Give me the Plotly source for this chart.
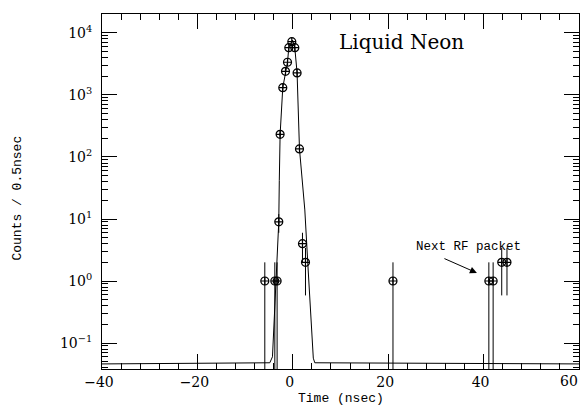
import math
import plotly.graph_objects as go

# measured data points (time in ns, counts per 0.5 ns)
time_ns = [-5.87, -3.77, -3.29, -2.94, -2.66, -2.10, -1.53, -1.11, -0.84, -0.21,
           0.42, 0.90, 1.40, 2.03, 2.66, 21.0, 41.1, 42.0, 43.8, 44.9]
counts = [1, 1, 1, 9, 232, 1310, 2410, 3370, 5790, 7240,
          5790, 2265, 135, 4, 2, 1, 1, 1, 2, 2]

# fitted curve
fit_t = [-40, -4.82, -4.26, -3.98, -3.56, -2.94, -2.83, -2.66, -2.10, -1.53, -1.11,
         -0.84, -0.06, 0.42, 0.90, 1.40, 1.95, 2.52, 3.14, 3.77, 4.30, 4.61, 60]
fit_v = [0.046, 0.048, 0.060, 0.18, 0.72, 9.0, 42, 232, 1312, 2410, 3370,
         5790, 7710, 5790, 2265, 135, 42, 14, 1.95, 0.235, 0.057, 0.048, 0.046]

ytick_vals = [0.1, 1, 10, 100, 1000, 10000]
ytick_text = ["10<sup>\u22121</sup>", "10<sup>0</sup>", "10<sup>1</sup>",
              "10<sup>2</sup>", "10<sup>3</sup>", "10<sup>4</sup>"]
xtick_vals = [-40, -20, 0, 20, 40, 60]
xtick_text = ["\u221240", "\u221220", "0", "20", "40", "60"]

err_plus = [c ** 0.5 for c in counts]
err_minus = [min(c ** 0.5, c * 0.999) for c in counts]

mono = "Liberation Mono"
serif = "DejaVu Serif"

fig = go.Figure()
fig.add_trace(go.Scatter(x=fit_t, y=fit_v, mode="lines",
                         line=dict(color="black", width=1), showlegend=False))
fig.add_trace(go.Scatter(
    x=time_ns, y=counts, mode="markers",
    marker=dict(symbol="circle-cross-open", size=8, color="black",
                line=dict(color="black", width=1.2)),
    error_y=dict(type="data", array=err_plus, arrayminus=err_minus,
                 symmetric=False, thickness=1, width=0, color="black"),
    showlegend=False))

axis_common = dict(showgrid=False, zeroline=False, showline=True, linecolor="black",
                   linewidth=1, mirror="allticks", ticks="inside", tickcolor="black",
                   ticklen=15, tickwidth=1, automargin=False)

# last x label sits at the right page edge; it is drawn as an annotation below
fig.update_xaxes(range=[-40, 60], tickvals=xtick_vals,
                 ticktext=xtick_text[:-1] + [""],
                 minor=dict(dtick=4, ticks="inside", ticklen=6, tickcolor="black",
                            showgrid=False),
                 tickfont=dict(family=serif, size=14, color="black"),
                 ticklabelshift=-3,
                 **axis_common)
fig.update_yaxes(type="log", range=[-1.419, 4.306], tickvals=ytick_vals,
                 ticktext=ytick_text,
                 minor=dict(dtick="D1", ticks="inside", ticklen=6, tickcolor="black",
                            showgrid=False),
                 tickfont=dict(family=serif, size=14, color="black"),
                 ticklabelstandoff=6,
                 **axis_common)

fig.add_annotation(text=xtick_text[-1], xref="paper", yref="paper", x=1, y=0,
                   xanchor="right", yanchor="middle", xshift=1, yshift=-12,
                   showarrow=False,
                   font=dict(family=serif, size=14, color="black"))
fig.add_annotation(text="Liquid Neon", xref="paper", yref="paper", x=0.627, y=0.921,
                   xanchor="center", yanchor="middle",
                   showarrow=False, font=dict(family=serif, size=20, color="black"))
fig.add_annotation(text="Next RF packet", x=36.9, y=math.log10(3.53), showarrow=False,
                   font=dict(family=mono, size=12.5, color="black"))
fig.add_annotation(text="", x=38.6, y=math.log10(1.35), ax=-34, ay=-15, showarrow=True,
                   arrowhead=2, arrowsize=1.4, arrowwidth=1, arrowcolor="black")
fig.add_annotation(text="Time (nsec)", xref="paper", yref="paper", x=0.5, y=0,
                   yshift=-29, yanchor="middle", showarrow=False,
                   font=dict(family=mono, size=13, color="black"))
fig.add_annotation(text="Counts / 0.5nsec", xref="paper", yref="paper", x=0, y=0.48,
                   xshift=-84, xanchor="center", yanchor="middle",
                   textangle=-90, showarrow=False,
                   font=dict(family=mono, size=13, color="black"))

fig.update_layout(width=585, height=408, autosize=False,
                  margin=dict(l=102, r=6, t=14, b=39),
                  plot_bgcolor="white", paper_bgcolor="white")

# remove the default 8px page margin so the figure fills the window exactly
fig.write_html("out.html",
               config={"displayModeBar": False},
               post_script="document.body.style.margin='0';"
                           "document.body.style.overflow='hidden';")
